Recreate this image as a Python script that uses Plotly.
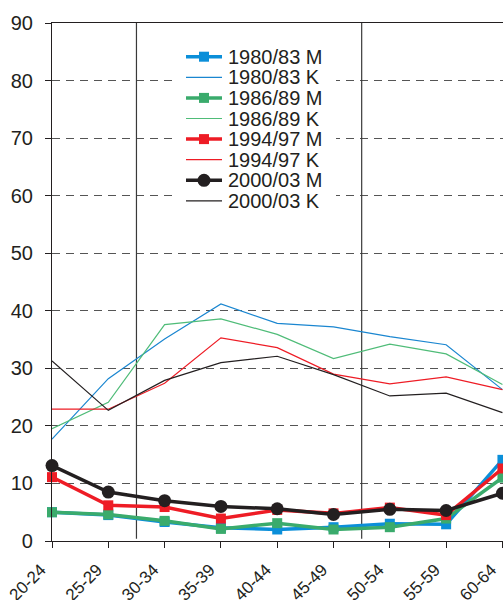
import plotly.graph_objects as go

age_groups = ['20-24', '25-29', '30-34', '35-39', '40-44', '45-49', '50-54', '55-59', '60-64']

m_1980 = [5.0, 4.5, 3.3, 2.3, 2.0, 2.4, 3.0, 2.9, 14.1]
k_1980 = [17.7, 28.2, 35.1, 41.2, 37.8, 37.2, 35.5, 34.1, 26.3]
m_1986 = [5.0, 4.6, 3.5, 2.1, 3.1, 2.0, 2.4, 3.9, 11.0]
k_1986 = [19.5, 24.1, 37.6, 38.6, 35.9, 31.7, 34.2, 32.5, 27.2]
m_1994 = [11.1, 6.2, 5.9, 3.9, 5.4, 4.8, 5.8, 4.5, 12.6]
k_1994 = [22.9, 22.9, 27.4, 35.3, 33.6, 29.0, 27.3, 28.5, 26.3]
m_2000 = [13.1, 8.5, 7.0, 6.0, 5.6, 4.6, 5.5, 5.3, 8.3]
k_2000 = [31.3, 22.7, 27.9, 31.0, 32.1, 28.9, 25.2, 25.7, 22.3]

y_ticks = [0, 10, 20, 30, 40, 50, 60, 70, 80, 90]

# name, values, colour, thick (M) or thin (K), marker symbol
series = [
    ('1980/83 M', m_1980, '#0b8fd9', True, 'square'),
    ('1980/83 K', k_1980, '#1a86d0', False, None),
    ('1986/89 M', m_1986, '#3aab6c', True, 'square'),
    ('1986/89 K', k_1986, '#4fbc78', False, None),
    ('1994/97 M', m_1994, '#ee1c25', True, 'square'),
    ('1994/97 K', k_1994, '#ee1c25', False, None),
    ('2000/03 M', m_2000, '#231f20', True, 'circle'),
    ('2000/03 K', k_2000, '#231f20', False, None),
]

ink = '#231f20'
font = dict(family='Arial, Liberation Sans, sans-serif', color=ink)

W, H = 503, 600
ml, mr, mt, mb = 52, 0, 23, 59
pw, ph = W - ml - mr, H - mt - mb
# the source image is cropped right at the last age group
x_max, y_max = len(age_groups) - 1 + 0.01, 90


def px_x(x):
    return (x - ml) / pw


def px_y(y):
    return (H - mb - y) / ph


fig = go.Figure()
for name, vals, color, thick, symbol in series:
    if thick:
        size = 13 if symbol == 'circle' else 10
        fig.add_trace(go.Scatter(
            x=list(range(len(age_groups))), y=vals, name=name, mode='lines+markers',
            line=dict(color=color, width=3.5),
            marker=dict(symbol=symbol, size=size, color=color, line=dict(width=0)),
            cliponaxis=False,
        ))
    else:
        fig.add_trace(go.Scatter(
            x=list(range(len(age_groups))), y=vals, name=name, mode='lines',
            line=dict(color=color, width=1.2),
        ))

shapes = []
# vertical separators
for xv in [1.5, 5.5]:
    shapes.append(dict(type='line', xref='x', yref='y', x0=xv, x1=xv, y0=0.4, y1=90,
                       line=dict(color='#3a3a3a', width=1.2), layer='between'))

# hand-drawn legend with tighter row spacing; white box hides the grid behind it
shapes.append(dict(type='rect', xref='x', yref='y',
                   x0=px_x(176) * x_max, x1=px_x(336) * x_max,
                   y0=px_y(212) * y_max, y1=px_y(45) * y_max,
                   fillcolor='white', line=dict(width=0), layer='between'))
annotations = []
row0, row_gap = 56.7, 20.6
for i, (name, vals, color, thick, symbol) in enumerate(series):
    yc = px_y(row0 + i * row_gap)
    shapes.append(dict(type='line', xref='paper', yref='paper',
                       x0=px_x(186), x1=px_x(222), y0=yc, y1=yc,
                       line=dict(color=color, width=3.5 if thick else 1.2), layer='above'))
    if thick:
        r = 6.5 if symbol == 'circle' else 5
        shapes.append(dict(type='circle' if symbol == 'circle' else 'rect',
                           xref='paper', yref='paper', xsizemode='pixel', ysizemode='pixel',
                           xanchor=px_x(204), yanchor=yc, x0=-r, x1=r, y0=-r, y1=r,
                           fillcolor=color, line=dict(width=0), layer='above'))
    annotations.append(dict(xref='paper', yref='paper', x=px_x(226), y=yc,
                            xanchor='left', yanchor='middle', text=name, showarrow=False,
                            font=dict(size=20, **font)))

fig.update_layout(
    width=W, height=H,
    margin=dict(l=ml, r=mr, t=mt, b=mb),
    plot_bgcolor='white', paper_bgcolor='white',
    showlegend=False,
    shapes=shapes,
    annotations=annotations,
    font=font,
)
fig.update_xaxes(
    range=[0, x_max], automargin=False,
    tickvals=list(range(len(age_groups))), ticktext=age_groups,
    tickangle=-45, tickfont=dict(size=17, **font),
    ticklabelstandoff=5, ticklabelshift=-11,
    ticks='outside', ticklen=6, tickcolor=ink, tickwidth=1.2,
    showline=True, linecolor=ink, linewidth=1.2, mirror=True,
    showgrid=False, zeroline=False,
)
fig.update_yaxes(
    range=[0, y_max], tickvals=y_ticks, automargin=False,
    tickfont=dict(size=20, **font), ticklabelstandoff=8,
    ticks='outside', ticklen=6, tickcolor=ink, tickwidth=1.2,
    showline=True, linecolor=ink, linewidth=1.2,
    showgrid=True, gridcolor='#555555', gridwidth=1, griddash='8px,6px',
    zeroline=False,
)

# drop the page's default body margin so the figure fills the window exactly
fix_page = ("document.body.style.margin='0';"
            "document.body.style.overflow='hidden';"
            "Plotly.Plots.resize(document.getElementById('{plot_id}'));")
fig.write_html("out.html", config={'displayModeBar': False}, post_script=fix_page)
